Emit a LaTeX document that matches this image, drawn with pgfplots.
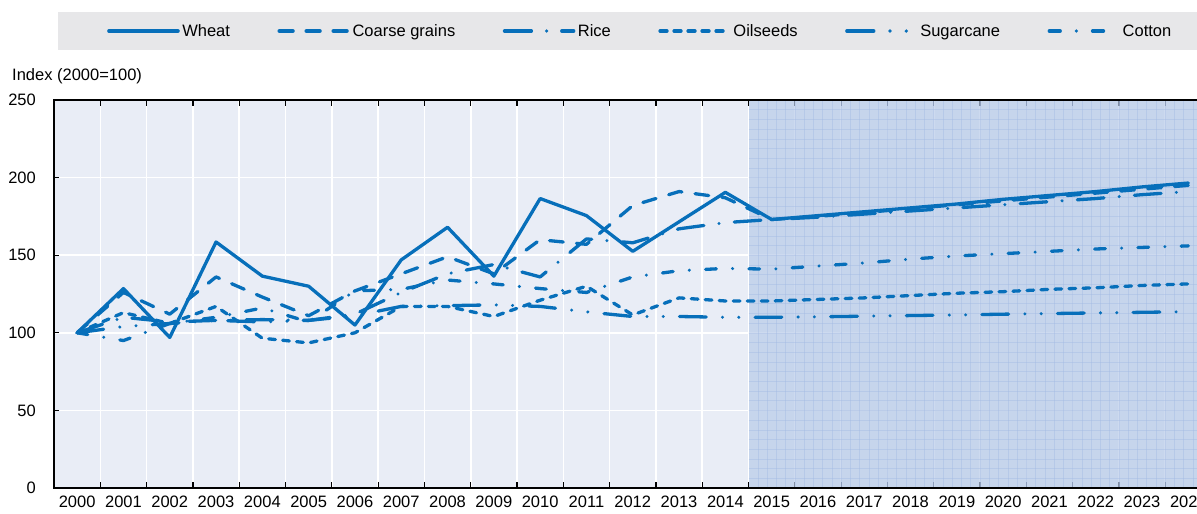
\documentclass[border=0pt]{standalone}
\usepackage{fontspec}
\setmainfont{Liberation Sans}
\usepackage{pgfplots}
\usepackage{pgfplotstable}
\pgfplotsset{compat=1.18}
\definecolor{oecdblue}{RGB}{7,111,186}
\definecolor{plotbg}{RGB}{233,237,246}
\definecolor{projfill}{RGB}{184,203,233}
\definecolor{projline}{RGB}{160,184,226}
\definecolor{legbg}{RGB}{231,231,233}
\newcommand{\fs}{\fontsize{16.5}{19.8}\selectfont}

\pgfplotstableread{
x wheat coarse rice oil sugar cotton
0  100   100   100   100   100   100
1  128.5 126   110   113   104   95
2  97    112   107   106   106   106
3  158.5 136   108   117   108   110
4  136.5 123   108.5 96.5  107   116
5  130   111   108   93.5  108   107
6  105   127   112   100   111   127
7  147   138   126   117   117   128
8  168   149   138   117   117.5 134
9  136.5 138   144   110.5 118   131.5
10 186.5 160   136   121   117   128.5
11 175.5 157   160.5 130   113.5 126
12 152.5 182   158   111.5 110.5 136
13 171.5 191   167   122.5 110.5 140
14 190.5 187   171   120.5 110   141.5
15 173   173   173   120.5 110   141
16 175.5 175   174.5 121.5 110.3 143
17 178   177.5 176.5 122.5 110.7 145
18 180.5 180   178.5 124   111.1 147.5
19 183   182.5 180.5 125.5 111.5 149.5
20 186   185   182.5 126.5 112   151
21 188.5 187.5 184.5 128   112.4 152.5
22 191   190   186.5 129   112.8 154
23 194   192.5 189   130.5 113.2 155
24 196.5 195   191   131.5 113.6 156
}\cropdata

\begin{document}
\begin{tikzpicture}
\fill[legbg] (58pt,464pt) rectangle (1220pt,502pt);
\node[anchor=west, font=\fs, inner sep=0pt] at (12pt,438pt) {Index (2000=100)};
\begin{axis}[
  at={(54pt,26pt)}, anchor=south west, scale only axis,
  width=1157.5pt, height=388pt,
  xmin=-0.5, xmax=24.5, ymin=0, ymax=250,
  axis background/.style={fill=plotbg},
  axis line style={black, line width=1.4pt},
  tick align=inside,
  major tick length=5pt, minor tick length=6pt,
  xtick={0,...,24},
  xticklabels={2000,2001,2002,2003,2004,2005,2006,2007,2008,2009,2010,2011,2012,2013,2014,2015,2016,2017,2018,2019,2020,2021,2022,2023,2024},
  major x tick style={draw=none},
  minor xtick={0.5,1.5,...,23.5},
  minor x tick style={black, line width=1.2pt},
  xminorgrids=true,
  minor grid style={white, line width=1.6pt},
  ytick={0,50,...,250},
  ymajorgrids=true,
  major grid style={white, line width=1.6pt},
  major y tick style={black, line width=1.2pt},
  /pgf/number format/assume math mode=true,
  tick label style={font=\fs, inner sep=0pt},
  xticklabel style={yshift=-8pt},
  yticklabel style={xshift=-18pt},
  cycle list={{oecdblue}},
  legend columns=6,
  legend style={draw=none, fill=none, font=\fs, at={(0.5067,1.1778)}, anchor=center,
    /tikz/every even column/.append style={column sep=45pt},
    nodes={inner sep=2.5pt}},
  legend image code/.code={\draw[#1, line width=3.6pt] (0pt,0pt) -- (69pt,0pt);},
  every axis plot/.append style={oecdblue, line width=3.3pt, line cap=round, line join=round, no markers},
]
\fill[projfill, fill opacity=0.7] (axis cs:14.5,0.5) rectangle (axis cs:24.5,249.5);
\pgfplotsinvokeforeach{14.7,14.9,...,24.4}{\draw[projline, line width=0.5pt, opacity=0.4] (axis cs:#1,0.5) -- (axis cs:#1,249.5);}
\pgfplotsinvokeforeach{6.25,12.5,...,245}{\draw[projline, line width=0.5pt, opacity=0.4] (axis cs:14.5,#1) -- (axis cs:24.5,#1);}
\addplot[oecdblue, solid] table[x=x, y=wheat] {\cropdata};
\addlegendentry{Wheat}
\addplot[oecdblue, dash pattern=on 13.7pt off 13.3pt] table[x=x, y=coarse] {\cropdata};
\addlegendentry{Coarse grains}
\addplot[oecdblue, dash pattern=on 26.7pt off 15.3pt on 0pt off 15.3pt] table[x=x, y=rice] {\cropdata};
\addlegendentry{Rice}
\addplot[oecdblue, dash pattern=on 6.7pt off 7.3pt] table[x=x, y=oil] {\cropdata};
\addlegendentry{Oilseeds}
\addplot[oecdblue, dash pattern=on 26.7pt off 16.3pt on 0pt off 16.3pt on 0pt off 16.3pt] table[x=x, y=sugar] {\cropdata};
\addlegendentry{Sugarcane}
\addplot[oecdblue, dash pattern=on 10.7pt off 16.3pt on 0pt off 16.3pt] table[x=x, y=cotton] {\cropdata};
\addlegendentry{Cotton}
\end{axis}
\pgfresetboundingbox
\useasboundingbox (0pt,0pt) rectangle (1197pt,514pt);
\end{tikzpicture}
\end{document}
